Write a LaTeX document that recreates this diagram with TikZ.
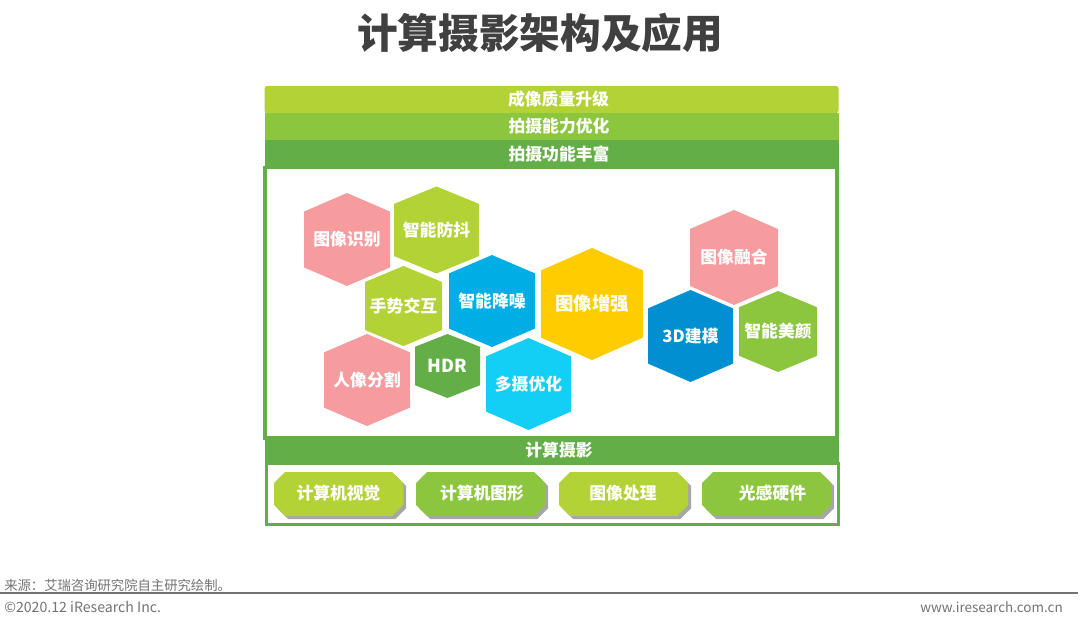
\documentclass[tikz,border=0pt]{standalone}
\usepackage{fontspec}
\setmainfont{Noto Sans CJK SC}
\usetikzlibrary{shadows}
\definecolor{lime}{HTML}{B2D235}
\definecolor{leaf}{HTML}{8CC63F}
\definecolor{grass}{HTML}{64AE47}
\definecolor{rose}{HTML}{F69C9F}
\definecolor{sky}{HTML}{00AEE6}
\definecolor{sun}{HTML}{FFCC00}
\definecolor{aqua}{HTML}{14CFF5}
\definecolor{ocean}{HTML}{008FD0}
% name, centre x, centre y, width, height, colour, font size, text
\newcommand{\hexa}[8]{%
  \fill[#6] (#2-#4/2,#3-0.3*#5) -- (#2,#3-#5/2) -- (#2+#4/2,#3-0.3*#5)
    -- (#2+#4/2,#3+0.3*#5) -- (#2,#3+#5/2) -- (#2-#4/2,#3+0.3*#5) -- cycle;
  \node[hexlabel, font=\bfseries\fontsize{#7}{#7}\selectfont] (#1) at (#2,#3) {#8};
}
% name, left x, text x, colour, text
\newcommand{\chamf}[5]{%
  \fill[#4, btnshadow] (#2+11,472) -- (#2+118,472) -- (#2+129,483) -- (#2+129,505)
    -- (#2+118,516) -- (#2+11,516) -- (#2,505) -- (#2,483) -- cycle;
  \node[btnlabel] (#1) at (#3,493.5) {#5};
}
\begin{document}
\begin{tikzpicture}[
  x=0.75pt, y=-0.75pt,
  bar/.style={inner sep=0, minimum width=430.5pt, minimum height=20.5pt, text=white,
    execute at begin node=\hspace*{10.5pt},
    font=\bfseries\fontsize{12.6}{12.6}\selectfont},
  frame/.style={draw=grass, line width=2.4pt, fill=white, inner sep=0},
  hexlabel/.style={text=white, inner sep=0},
  btnshadow/.style={drop shadow={shadow xshift=2.4pt, shadow yshift=-2.4pt, fill=black, opacity=0.35}},
  btnlabel/.style={text=white, inner sep=0, font=\bfseries\fontsize{12.6}{12.6}\selectfont},
  foot/.style={text=black!55, inner sep=0, font=\fontsize{10}{10}\selectfont}
]
\useasboundingbox[fill=white] (0,0) rectangle (1080,630);

\node[text=black!75, inner sep=0, font=\bfseries\fontsize{30.5}{30.5}\selectfont] (title) at (540,33) {计算摄影架构及应用};

% framed areas
\node[frame, minimum width=429pt, minimum height=203pt] (upper) at (551,303) {};
\node[frame, minimum width=429pt, minimum height=46pt] (lower) at (552.5,494) {};

% bars
\node[bar, fill=lime, rounded corners=2pt] (quality) at (551.5,99.5) {成像质量升级};
\node[bar, fill=leaf] (ability) at (552,126.5) {拍摄能力优化};
\node[bar, fill=grass] (feature) at (552,154) {拍摄功能丰富};
\node[bar, fill=grass] (comp) at (552,450) {计算摄影};

% hexagons
\hexa{recog}{347}{239.5}{86}{93}{rose}{12.6}{图像识别}
\hexa{stable}{436.5}{230}{85}{87}{lime}{12.6}{智能防抖}
\hexa{gesture}{403.5}{306}{77}{80}{lime}{12.6}{手势交互}
\hexa{denoise}{492}{301}{86}{92}{sky}{12.6}{智能降噪}
\hexa{enhance}{592}{304}{102}{112}{sun}{13.8}{图像增强}
\hexa{portrait}{367}{380}{86}{92}{rose}{12.6}{人像分割}
\hexa{hdr}{447.5}{366}{65}{64}{grass}{13.4}{HDR}
\hexa{multi}{528.5}{384}{85}{92}{aqua}{12.6}{多摄优化}
\hexa{fusion}{734}{257.5}{88}{95}{rose}{12.6}{图像融合}
\hexa{model}{690.5}{336}{85}{92}{ocean}{12.6}{3D建模}
\hexa{beauty}{778}{331.5}{78}{81}{leaf}{12.6}{智能美颜}

% base techniques
\chamf{vision}{274}{338.5}{lime}{计算机视觉}
\chamf{graphics}{416}{482}{leaf}{计算机图形}
\chamf{process}{559}{623}{lime}{图像处理}
\chamf{sensor}{702}{772.5}{leaf}{光感硬件}

% footer
\node[foot, anchor=west] (source) at (4,585) {来源：艾瑞咨询研究院自主研究绘制。};
\coordinate (ruleL) at (0,593);
\coordinate (ruleR) at (1078,593);
\draw[black!55, line width=0.9pt] (ruleL) -- (ruleR);
\node[foot, anchor=west, font=\fontsize{10.6}{10.6}\selectfont] (copy) at (4,607) {©2020.12 iResearch Inc.};
\node[foot, anchor=east, font=\fontsize{10.1}{10.1}\selectfont] (site) at (1063,607) {www.iresearch.com.cn};
\end{tikzpicture}
\end{document}
